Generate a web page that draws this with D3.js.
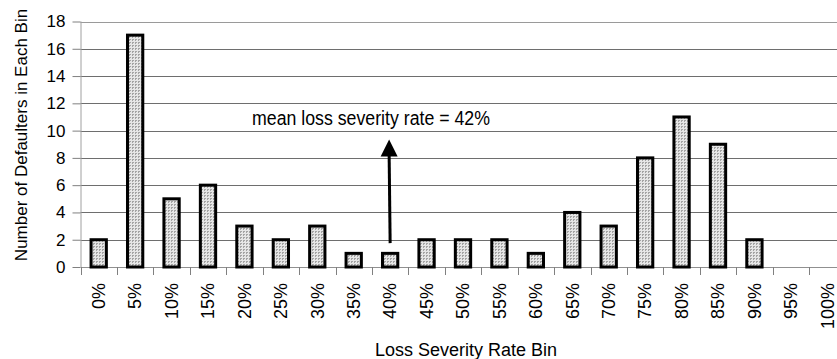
<!DOCTYPE html>
<html><head><meta charset="utf-8">
<script src="https://cdn.jsdelivr.net/npm/d3@7/dist/d3.min.js"></script>
<style>
body{margin:0;background:#fff;}
text{font-family:"Liberation Sans",Arial,sans-serif;fill:#000;}
</style></head>
<body><svg id="c" width="837" height="359"></svg>
<script>
const categories = ["0%","5%","10%","15%","20%","25%","30%","35%","40%","45%","50%","55%","60%","65%","70%","75%","80%","85%","90%","95%","100%"];
const counts = [2,17,5,6,3,2,3,1,1,2,2,2,1,4,3,8,11,9,2,0,0];
const yTicks = [0,2,4,6,8,10,12,14,16,18];
const annotationText = "mean loss severity rate = 42%";
const arrowCategory = "40%";
const arrowFrom = 1.75, arrowTo = 9.35;

(function(){
const svg = d3.select("#c");
const pLeft = 80.5, pRight = 845.5, pTop = 21.5, pBottom = 267;
const x = d3.scaleBand().domain(categories).range([pLeft, pRight]).paddingInner(0).paddingOuter(0);
const y = d3.scaleLinear().domain([0,18]).range([pBottom, pTop]);

const defs = svg.append("defs");
const pat = defs.append("pattern").attr("id","chk").attr("patternUnits","userSpaceOnUse").attr("width",3).attr("height",3);
pat.append("rect").attr("width",3).attr("height",3).attr("fill","#e6e6e6");
pat.append("rect").attr("x",0).attr("y",0).attr("width",2).attr("height",1).attr("fill","#a4a4a4");
pat.append("rect").attr("x",0).attr("y",1).attr("width",1).attr("height",1).attr("fill","#a4a4a4");

// gridlines
svg.append("g").selectAll("line").data(yTicks.filter(d=>d>0)).join("line")
  .attr("x1",pLeft).attr("x2",837).attr("y1",d=>Math.round(y(d))+0.5).attr("y2",d=>Math.round(y(d))+0.5)
  .attr("stroke",d=>d===18?"#9a9a9a":"#6e6e6e").attr("stroke-width",1);

// y axis
const ya = svg.append("g").attr("transform",`translate(${pLeft},0)`)
  .call(d3.axisLeft(y).tickValues(yTicks).tickSize(8).tickPadding(7));
ya.select(".domain").attr("stroke","#a0a0a0").attr("d",`M0.5,${pTop}V${pBottom}`);
ya.selectAll(".tick line").attr("stroke","#808080");
ya.selectAll(".tick text").attr("font-size","17px").style("font-family",'"Liberation Sans",Arial,sans-serif');

// x axis
const xa = svg.append("g").attr("transform",`translate(0,${pBottom})`)
  .call(d3.axisBottom(x).tickSize(0).tickPadding(0));
xa.select(".domain").attr("stroke","#909090").attr("d",`M${pLeft},0.5H837`);
xa.selectAll(".tick text")
  .attr("font-size","18px")
  .attr("text-anchor","end")
  .attr("transform","translate(0,16) rotate(-90)")
  .attr("dx","0").attr("dy","0.35em").attr("y",0).attr("x",0)
  .style("font-family",'"Liberation Sans",Arial,sans-serif');
// category separator ticks
svg.append("g").selectAll("line").data(categories).join("line")
  .attr("x1",d=>Math.round(x(d))+0.5).attr("x2",d=>Math.round(x(d))+0.5)
  .attr("y1",pBottom).attr("y2",pBottom+8).attr("stroke","#808080");

// bars
const bw = x.bandwidth()*0.42;
svg.append("g").selectAll("rect").data(categories.map((c,i)=>({c,v:counts[i]})).filter(d=>d.v>0)).join("rect")
  .attr("x",d=>x(d.c)+x.bandwidth()/2-bw/2)
  .attr("y",d=>y(d.v))
  .attr("width",bw)
  .attr("height",d=>y(0)-y(d.v))
  .attr("fill","url(#chk)").attr("stroke","#000").attr("stroke-width",3);

// annotation
const ax = x(arrowCategory)+x.bandwidth()/2 - 0.5;
svg.append("text").attr("x",371).attr("y",125).attr("text-anchor","middle")
  .attr("font-size","20px").attr("textLength",238).attr("lengthAdjust","spacingAndGlyphs").text(annotationText);
const yTip = y(arrowTo), headH = 17, headW = 17;
svg.append("line").attr("x1",ax+0.5).attr("x2",ax-0.5).attr("y1",y(arrowFrom)).attr("y2",yTip+headH-1)
  .attr("stroke","#000").attr("stroke-width",3);
svg.append("path").attr("d",`M${ax-0.5},${yTip}L${ax-0.5+headW/2},${yTip+headH}L${ax-0.5-headW/2},${yTip+headH}Z`).attr("fill","#000");

// axis titles
svg.append("text").attr("transform",`translate(27,135) rotate(-90)`)
  .attr("text-anchor","middle").attr("font-size","17px")
  .text("Number of Defaulters in Each Bin");
svg.append("text").attr("x",466).attr("y",356).attr("text-anchor","middle")
  .attr("font-size","18px").text("Loss Severity Rate Bin");
})();
</script></body></html>
